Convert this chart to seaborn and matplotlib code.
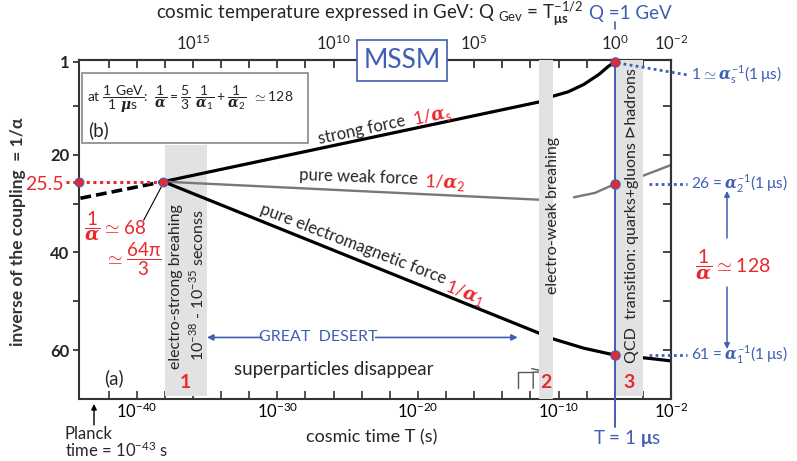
import pandas as pd
import seaborn as sns
import matplotlib.pyplot as plt
from matplotlib.patches import Rectangle

# x = log10(cosmic time / s), y = inverse coupling 1/alpha
unify_t = -38.1
unify_inv = 25.5

pre_t = [-44.0, -38.1]
pre_inv = [28.9, 25.5]

strong_t = [-38.1, -11.4, -10.5, -9.3, -8.2, -7.1, -6.5, -6.0]
strong_inv = [25.5, 9.2, 8.1, 7.1, 5.6, 3.5, 2.0, 1.0]

weak_t = [-38.1, -11.4, -8.9, -7.4, -6.0, -3.9, -2.0]
weak_inv = [25.5, 29.2, 28.7, 27.8, 26.0, 24.2, 22.1]
weak_seg = [0, 0, 1, 1, 1, 1, 1]

em_t = [-38.1, -11.4, -10.5, -8.2, -6.0, -3.5, -2.0]
em_inv = [25.5, 56.5, 57.6, 59.6, 61.0, 61.7, 62.2]

band_lo = [-38.0, -11.4, -6.0]
band_hi = [-35.0, -10.4, -4.0]
band_top = [18.0, 0.6, 0.6]
band_low = [69.4, 70.0, 69.3]
band_tags = ['1', '2', '3']

t_1us = -6.0
inv_1us = [1.0, 26.0, 61.0]
inv_1us_text = [r"$1\simeq\alpha_{\mathrm{s}}^{-1}(1\,\mathrm{\mu s})$",
                r"$26=\alpha_{2}^{-1}(1\,\mathrm{\mu s})$",
                r"$61=\alpha_{1}^{-1}(1\,\mathrm{\mu s})$"]

x_ticks = [-40, -30, -20, -10, -2]
q_ticks = [15, 10, 5, 0, -2]
y_ticks = [1, 20, 40, 60]

RED = '#e8282d'
BLUE = '#3f5fb3'
BAND = '#e2e2e2'

sns.set_style('ticks')
plt.rcParams['font.family'] = ['Lato', 'DejaVu Sans']
plt.rcParams['mathtext.fontset'] = 'custom'
plt.rcParams['mathtext.rm'] = 'Lato'
plt.rcParams['mathtext.bf'] = 'Lato:bold'
plt.rcParams['mathtext.it'] = 'DejaVu Serif:italic:bold'
plt.rcParams['axes.edgecolor'] = '#333333'


def fxy(x, y):
    return x / 797, 1 - y / 461


fig = plt.figure(figsize=(7.97, 4.61), dpi=100)
ax = fig.add_axes([79 / 797, 1 - 399 / 461, 592 / 797, 339 / 461])

# grey bands (band 1 sits behind the lines, the others cover them)
for lo, hi, top, low, z in zip(band_lo, band_hi, band_top, band_low, [1, 3, 3]):
    ax.fill_between([lo, hi], top, low, color=BAND, lw=0, zorder=z)

sns.lineplot(x=pre_t, y=pre_inv, color='black', lw=2.6, linestyle=(0, (3, 1.4)),
             sort=False, estimator=None, ax=ax, zorder=2)
sns.lineplot(x=strong_t, y=strong_inv, color='black', lw=2.3,
             sort=False, estimator=None, ax=ax, zorder=2)
weak = pd.DataFrame({'t': weak_t, 'inv': weak_inv, 'seg': weak_seg})
sns.lineplot(data=weak, x='t', y='inv', units='seg', estimator=None, sort=False,
             color='#787878', lw=1.7, ax=ax, zorder=2)
sns.lineplot(x=em_t, y=em_inv, color='black', lw=2.3,
             sort=False, estimator=None, ax=ax, zorder=2)

ax.set_xlim(-44.1, -2)
ax.set_ylim(70, 0.6)
ax.set_xlabel('')
ax.set_ylabel('')

# unification point
ax.plot([-45.0, unify_t], [unify_inv, unify_inv], color=RED, lw=2.2,
        linestyle=(0, (1, 1.2)), clip_on=False, zorder=4)
sns.scatterplot(x=[-44.1, unify_t], y=[unify_inv, unify_inv], color=RED,
                edgecolor=BLUE, linewidth=0.8, s=40, clip_on=False, zorder=6, ax=ax)

# T = 1 microsecond
trans = ax.get_xaxis_transform()
ax.plot([t_1us, t_1us], [-0.083, 1.0], color=BLUE, lw=1.4, transform=trans,
        clip_on=False, zorder=5)
ax.plot([t_1us, t_1us], [1.092, 1.113], color=BLUE, lw=1.2, transform=trans,
        clip_on=False, zorder=5)
sns.scatterplot(x=[t_1us] * 3, y=inv_1us, color=RED, edgecolor=BLUE,
                linewidth=0.8, s=45, clip_on=False, zorder=7, ax=ax)
ax.plot([-5.8, -0.75], [1.2, 3.7], color=BLUE, lw=2, linestyle=(0, (1, 1.2)),
        clip_on=False, zorder=5)
for v in inv_1us[1:]:
    ax.plot([-3.6, -0.85], [v, v], color=BLUE, lw=2, linestyle=(0, (1, 1.2)),
            clip_on=False, zorder=5)
for v, s, yy in zip(inv_1us, inv_1us_text, [3.7, 26.0, 61.0]):
    ax.text(-0.6, yy, s, color=BLUE, fontsize=11.2, ha='left', va='center',
            clip_on=False)

# axes ticks
ax.set_xticks(x_ticks, [f'$10^{{{v}}}$' for v in x_ticks])
ax.set_xticks(range(-42, -2, 2), minor=True)
ax.tick_params(axis='x', which='both', direction='in', length=6, width=1.2,
               labelsize=12, pad=2, colors='#333333')
ax.tick_params(axis='x', which='both', labelcolor='black')
ax.set_yticks(y_ticks, [str(v) for v in y_ticks])
ax.set_yticks([10, 30, 50], minor=True)
ax.tick_params(axis='y', which='both', direction='out', length=4, width=1.2,
               labelsize=12, pad=3)
for lab in ax.get_yticklabels():
    lab.set_fontweight('bold')

right = ax.secondary_yaxis('right')
right.set_yticks([10, 20, 30, 40, 50, 60], [''] * 6)
right.tick_params(direction='in', length=6, width=1.2)

top = ax.secondary_xaxis('top', functions=(lambda t: -0.5 * (t + 6),
                                           lambda q: -6 - 2 * q))
top.set_xticks(q_ticks, [f'$10^{{{q}}}$' for q in q_ticks])
top.set_xticks(range(-1, 19), minor=True)
top.tick_params(which='both', direction='in', length=6, width=1.2,
                labelsize=12, pad=5)

for sp in ax.spines.values():
    sp.set_linewidth(1.5)
right.spines['right'].set_linewidth(1.5)
top.spines['top'].set_linewidth(1.5)

# band texts
ax.text(-37.2, 46.9, 'electro-strong breahing', rotation=90, ha='center',
        va='center', fontsize=11.5, zorder=4)
ax.text(-35.7, 46.7, r'10$^{-38}$ - 10$^{-35}$ seconss', rotation=90,
        ha='center', va='center', fontsize=11.5, zorder=4)
ax.text(-10.4, 32.5, 'electro-weak breahing', rotation=90, ha='center',
        va='center', fontsize=11.5, zorder=4)
ax.text(-4.8, 32.5, 'QCD  transition: quarks+gluons \u22b3hadrons', rotation=90,
        ha='center', va='center', fontsize=11.5, zorder=4)
for lo, hi, tag in zip(band_lo, band_hi, band_tags):
    ax.text((lo + hi) / 2, 66.7, tag, color=RED, fontsize=14,
            fontweight='bold', ha='center', va='center', zorder=4)

# force labels
ax.text(-24.0, 15.0, 'strong force', rotation=12, ha='center', va='center',
        fontsize=12)
ax.text(-19.0, 12.0, r'$1/\alpha_{\mathrm{s}}$', color=RED, rotation=12,
        ha='center', va='center', fontsize=13)
ax.text(-24.2, 24.5, 'pure weak force', rotation=-2, ha='center', va='center',
        fontsize=12)
ax.text(-18.1, 25.8, r'$1/\alpha_{2}$', color=RED, rotation=-2,
        ha='center', va='center', fontsize=13)
ax.text(-24.6, 38.3, 'pure electromagnetic force', rotation=-21, ha='center',
        va='center', fontsize=12)
ax.text(-16.7, 48.3, r'$1/\alpha_{1}$', color=RED, rotation=-21,
        ha='center', va='center', fontsize=13)

# great desert
ax.annotate('', xy=(-35.0, 57.4), xytext=(-31.1, 57.4),
            arrowprops=dict(arrowstyle='-|>', color=BLUE, lw=1.2,
                            mutation_scale=9, shrinkA=0, shrinkB=0))
ax.annotate('', xy=(-12.9, 57.4), xytext=(-23.0, 57.4),
            arrowprops=dict(arrowstyle='-|>', color=BLUE, lw=1.2,
                            mutation_scale=9, shrinkA=0, shrinkB=0))
ax.text(-27.1, 57.4, 'GREAT  DESERT', color=BLUE, ha='center', va='center',
        fontsize=11.5)

ax.text(-26.0, 64.0, 'superparticles disappear', ha='center', va='center',
        fontsize=13.5)
ax.plot([-11.9, -10.7, -11.8, -11.8], [63.8, 64.5, 64.5, 67.8],
        color='#555555', lw=1.0)
ax.plot([-11.8, -12.9, -12.9], [64.5, 64.5, 67.8], color='#555555', lw=1.0)

ax.text(-41.6, 65.7, '(a)', fontsize=13.5, ha='center', va='center')

# left annotations
fig.text(*fxy(64, 185), '25.5', color=RED, fontsize=14, ha='right', va='center')
fig.text(*fxy(115, 226), r'$\dfrac{1}{\alpha}\simeq 68$', color=RED, fontsize=13.5,
         ha='center', va='center')
fig.text(*fxy(133, 259), r'$\simeq\dfrac{64\mathrm{\pi}}{3}$', color=RED,
         fontsize=13.5, ha='center', va='center')
ax.plot([-39.5, -38.25], [33.4, 26.6], color='black', lw=0.8)

# right annotation
fig.text(*fxy(733, 264), r'$\dfrac{1}{\alpha}\simeq 128$', color=RED, fontsize=14,
         ha='center', va='center')
for y0, y1 in [(238, 191), (287, 349)]:
    fig.add_artist(plt.Annotation('', xy=fxy(727, y1), xytext=fxy(727, y0),
                                  xycoords='figure fraction',
                                  arrowprops=dict(arrowstyle='-|>', color=BLUE,
                                                  lw=1.1, mutation_scale=8,
                                                  shrinkA=0, shrinkB=0)))

# box (b)
fig.add_artist(Rectangle(fxy(82, 143), 226 / 797, 70 / 461,
                         transform=fig.transFigure, fc='white', ec='#888888',
                         lw=1.2, zorder=5))
fig.text(*fxy(87, 99),
         r'at $\dfrac{1\ \mathrm{GeV}}{1\ \mu\mathrm{s}}$:  '
         r'$\dfrac{1}{\alpha}=\dfrac{5}{3}\ \dfrac{1}{\alpha_{1}}+\dfrac{1}{\alpha_{2}}\ \simeq128$',
         fontsize=10, ha='left', va='center', zorder=6)
fig.text(*fxy(88, 130), '(b)', fontsize=13.5, ha='left', va='center', zorder=6)

# MSSM box
fig.add_artist(Rectangle(fxy(357, 81), 90 / 797, 41 / 461,
                         transform=fig.transFigure, fc='white', ec=BLUE,
                         lw=1.2, zorder=5))
fig.text(*fxy(402, 61), 'MSSM', color=BLUE, fontsize=19, ha='center',
         va='center', zorder=6)

# titles and outer labels
fig.text(*fxy(370, 14),
         r'cosmic temperature expressed in GeV: Q $_{\mathrm{Gev}}$ = T$_{\mathbf{\mu s}}^{-1/2}$',
         fontsize=13.5, ha='center', va='center')
fig.text(*fxy(630, 14), 'Q =1 GeV', color=BLUE, fontsize=13.5, ha='center',
         va='center')
fig.text(*fxy(372, 437), 'cosmic time T (s)', fontsize=13, ha='center',
         va='center')
fig.text(*fxy(627, 438), r'T = 1 $\mathbf{\mu}$s', color=BLUE, fontsize=13.5,
         ha='center', va='center')
fig.text(*fxy(18, 232), 'inverse of the coupling  = 1/\u03b1', rotation=90,
         fontsize=12.5, fontweight='bold', color='#333333', ha='center',
         va='center')
fig.text(*fxy(65, 443), 'Planck\n' + r'time = 10$^{-43}$ s', fontsize=12,
         ha='left', va='center', linespacing=0.95)
fig.add_artist(plt.Annotation('', xy=fxy(94, 404), xytext=fxy(94, 425),
                              xycoords='figure fraction',
                              arrowprops=dict(arrowstyle='-|>', color='black',
                                              lw=1.0, mutation_scale=8,
                                              shrinkA=0, shrinkB=0)))

fig.savefig('out.png', dpi=100)
